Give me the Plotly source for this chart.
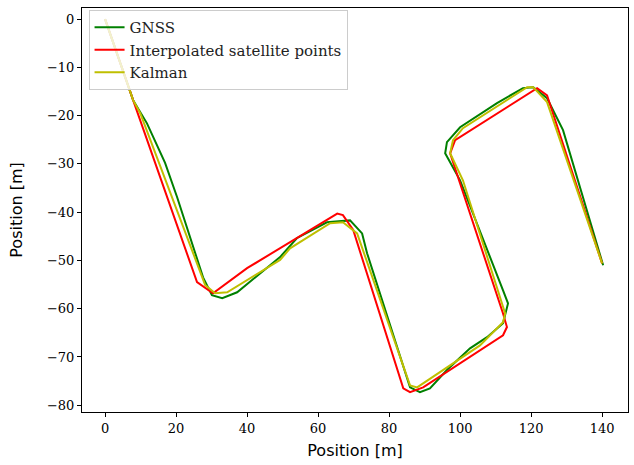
import plotly.graph_objects as go

gnss_x = [0, 7.9, 11.8, 16.9, 20.3, 27.6, 30.1, 33.0, 37.2, 43.7, 49.3, 54.0, 62.5, 69.0, 72.4, 73.8,
          85.9, 88.7, 91.5, 96.3, 102.8, 107.6, 112.1, 113.5, 112.1, 100.0, 95.8, 96.3, 100.0, 110.4,
          117.7, 120.6, 124.5, 129.0, 140.3]
gnss_y = [0, -16.8, -21.6, -29.8, -36.9, -53.5, -57.2, -57.8, -56.6, -52.6, -49.3, -45.4, -42.1, -41.7,
          -44.4, -48.5, -76.3, -77.3, -76.5, -72.7, -68.2, -65.9, -63.0, -58.9, -56.2, -33.4, -27.8,
          -25.5, -22.4, -17.4, -14.3, -14.1, -16.4, -23.0, -51.0]

sat_x = [0, 7.9, 25.9, 30.4, 40.0, 49.3, 65.4, 67.0, 69.9, 84.0, 85.9, 89.6, 112.1, 113.2, 112.1,
         97.2, 98.6, 121.7, 124.5, 140.0]
sat_y = [0, -16.8, -54.5, -56.8, -51.6, -47.5, -40.3, -40.6, -43.7, -76.5, -77.3, -76.3, -65.5,
         -63.8, -61.0, -27.8, -25.1, -14.3, -15.8, -50.6]

kal_x = [0, 7.9, 9.9, 20.3, 28.2, 31.0, 34.4, 49.3, 52.1, 63.4, 67.0, 71.0, 85.9, 87.9, 105.6, 112.1,
         112.7, 100.8, 97.2, 98.0, 100.8, 118.9, 120.6, 124.5, 140.0]
kal_y = [0, -16.8, -19.5, -39.6, -55.1, -56.8, -56.6, -49.9, -47.5, -42.3, -42.1, -44.4, -75.9, -76.3,
         -67.6, -62.8, -61.0, -33.4, -27.8, -25.1, -22.6, -14.1, -14.1, -17.2, -50.6]

x_ticks = [0, 20, 40, 60, 80, 100, 120, 140]
y_ticks = [0, -10, -20, -30, -40, -50, -60, -70, -80]

fig = go.Figure()
fig.add_trace(go.Scatter(x=gnss_x, y=gnss_y, mode="lines", name="GNSS",
                         line=dict(color="green", width=2)))
fig.add_trace(go.Scatter(x=sat_x, y=sat_y, mode="lines", name="Interpolated satellite points",
                         line=dict(color="red", width=2)))
fig.add_trace(go.Scatter(x=kal_x, y=kal_y, mode="lines", name="Kalman",
                         line=dict(color="#bfbf00", width=2)))

axis_common = dict(showgrid=False, zeroline=False, showline=True, linecolor="black", linewidth=1,
                   mirror=True, ticks="outside", ticklen=4, tickwidth=1, tickcolor="black",
                   tickfont=dict(family="DejaVu Serif", size=13, color="black"))

fig.update_xaxes(range=[-6.5, 147.3], tickvals=x_ticks,
                 title=dict(text="Position [m]", font=dict(family="DejaVu Sans", size=16, color="black"),
                            standoff=10), **axis_common)
fig.update_yaxes(range=[-81.4, 2.3], tickvals=y_ticks,
                 title=dict(text="Position [m]", font=dict(family="DejaVu Sans", size=16, color="black"),
                            standoff=20), **axis_common)

fig.update_layout(
    width=634, height=465,
    margin=dict(l=82, r=6, t=8, b=53),
    plot_bgcolor="white", paper_bgcolor="white",
    legend=dict(x=0.012, y=0.995, xanchor="left", yanchor="top",
                bgcolor="rgba(255,255,255,0.8)", bordercolor="#cccccc", borderwidth=1,
                font=dict(family="DejaVu Serif", size=15, color="#222222"),
                tracegroupgap=0, itemwidth=30),
)

fig.write_html("out.html")
